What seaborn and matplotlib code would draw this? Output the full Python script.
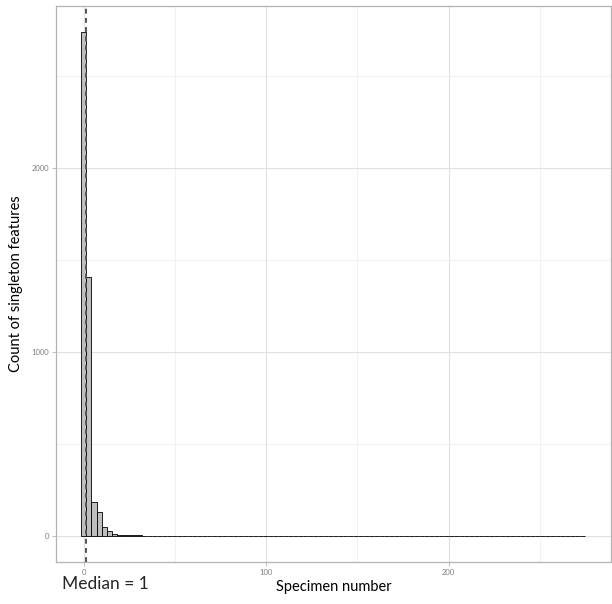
import matplotlib
matplotlib.use("Agg")
import matplotlib.pyplot as plt
from matplotlib.ticker import MultipleLocator
import numpy as np
import pandas as pd
import seaborn as sns

# histogram counts, 100 bins
counts = [2740, 1406, 183, 132, 49, 27, 12, 8, 5, 4,
          3, 3, 2, 2, 1, 2, 1, 1, 2, 1,
          1, 1, 2, 0, 1, 1, 1, 2, 0, 1,
          0, 1, 0, 2, 0, 0, 1, 0, 2, 0,
          0, 1, 0, 0, 1, 0, 0, 0, 1, 0,
          0, 0, 1, 0, 0, 0, 0, 1, 0, 0,
          0, 0, 0, 1, 0, 2, 0, 0, 0, 0,
          0, 1, 0, 0, 2, 0, 0, 0, 1, 0,
          0, 0, 0, 0, 1, 0, 0, 0, 0, 0,
          0, 1, 0, 0, 0, 0, 0, 2, 0, 2]
bin_start = -1.38
bin_width = 2.762
median_value = 1

edges = bin_start + bin_width * np.arange(len(counts) + 1)
df = pd.DataFrame({"center": (edges[:-1] + edges[1:]) / 2, "n": counts})

sns.set_style("white")
plt.rcParams['font.family'] = ['Lato', 'DejaVu Sans']

fig, ax = plt.subplots(figsize=(6.12, 6.04), dpi=100)
fig.subplots_adjust(left=56/612, right=611/612, top=1-6/604, bottom=1-562/604)

sns.histplot(data=df, x="center", weights="n", binwidth=bin_width,
             binrange=(edges[0], edges[-1]), color="#bebebe",
             edgecolor="black", linewidth=0.6, alpha=1, ax=ax, zorder=2)
ax.axvline(median_value, color="#555555", lw=1.4, ls=(0, (2.5, 2.2)), zorder=3)

ax.set_xlim(-15.3, 289)
ax.set_ylim(-141, 2880)
ax.xaxis.set_major_locator(MultipleLocator(100))
ax.xaxis.set_minor_locator(MultipleLocator(50))
ax.yaxis.set_major_locator(MultipleLocator(1000))
ax.yaxis.set_minor_locator(MultipleLocator(500))
ax.grid(which="major", color="#e0e0e0", lw=0.8, zorder=0)
ax.grid(which="minor", color="#ececec", lw=0.5, zorder=0)
ax.set_axisbelow(True)
for s in ax.spines.values():
    s.set_color("#b3b3b3")
    s.set_linewidth(0.9)
ax.tick_params(which="major", length=3, width=0.6, color="#b3b3b3",
               labelsize=5.5, labelcolor="#7f7f7f", pad=2, bottom=True, left=True)
ax.tick_params(which="minor", length=0)

ax.set_xlabel("Specimen number", fontsize=10.5, color="black")
ax.set_ylabel("Count of singleton features", fontsize=10.5, color="black")
ax.xaxis.set_label_coords(0.5, (562-580)/556)
ax.yaxis.set_label_coords((23-56)/555, 0.5)

fig.text(62/612, 1-584/604, "Median = 1", fontsize=12.5, va="center", ha="left")

fig.savefig("out.png", dpi=100)
